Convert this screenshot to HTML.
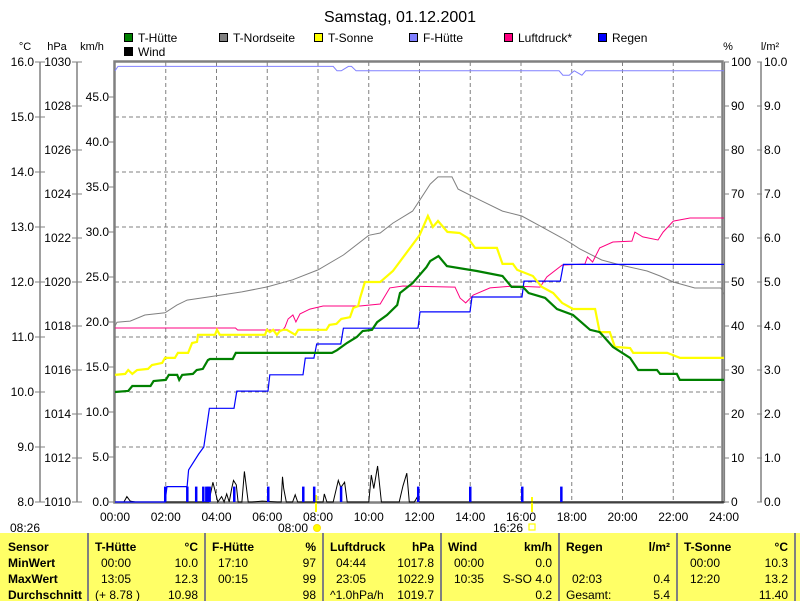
<!DOCTYPE html>
<html><head><meta charset="utf-8"><style>
body{margin:0;background:#fff;width:800px;height:601px;overflow:hidden;font-family:"Liberation Sans",sans-serif}
svg text{font-family:"Liberation Sans",sans-serif}
</style></head><body>
<svg id="c" width="800" height="601" xmlns="http://www.w3.org/2000/svg">
<rect width="800" height="601" fill="#fff"/>
<text x="400" y="22" font-size="16" text-anchor="middle">Samstag, 01.12.2001</text>
<g id="grid"></g>
<g id="axes"></g>
<g id="series"></g>
<g id="legend"></g>
<g id="table"></g>
</svg>
<script>
// ---- data ----
const hutteT=[0,0.52,0.68,1.4,1.52,2.0,2.12,2.45,2.53,2.65,3.07,3.22,3.46,3.66,3.74,4.64,4.76,8.55,8.75,9.14,9.53,9.76,10.13,10.33,10.72,11.12,11.14,11.23,11.73,12.27,12.42,12.75,13.08,14.26,15.27,15.63,16.07,16.3,16.95,17.42,18.05,18.72,19.1,19.62,20.3,20.62,21.36,21.48,22.14,22.26,23.85,24];
const hutteV=[10.0,10.02,10.11,10.11,10.2,10.22,10.31,10.31,10.22,10.31,10.33,10.4,10.42,10.58,10.6,10.6,10.71,10.71,10.76,10.89,11.0,11.11,11.13,11.27,11.4,11.58,11.62,11.8,11.98,12.27,12.38,12.47,12.29,12.2,12.11,11.91,11.91,11.8,11.71,11.51,11.4,11.13,11.09,10.82,10.62,10.4,10.4,10.33,10.33,10.22,10.22,10.22];
const nordT=[0,0.08,0.6,1.18,1.97,2.44,2.84,4.0,5.0,6.0,7.0,8.0,9.0,10.0,10.45,10.95,11.73,12.42,12.73,13.28,13.52,14.38,15.27,16.03,16.75,17.62,18.02,18.32,19.18,19.9,20.97,21.48,22.0,22.85,23.88,24];
const nordV=[11.2,11.27,11.29,11.4,11.44,11.58,11.67,11.75,11.82,11.91,12.04,12.22,12.49,12.85,12.89,13.07,13.29,13.78,13.91,13.91,13.69,13.49,13.29,13.2,13.02,12.8,12.69,12.6,12.4,12.31,12.2,12.11,12.0,11.89,11.89,11.78];
const sonneT=[0,0.4,0.52,0.68,0.87,1.3,1.46,1.86,1.97,2.36,2.48,2.88,3.04,3.23,3.27,3.94,4.02,4.13,5.91,5.99,6.1,6.23,6.38,6.5,6.62,6.77,7.1,7.22,8.33,8.45,8.73,8.92,9.26,9.39,9.58,9.66,9.85,10.45,10.95,12.0,12.33,12.53,12.73,13.1,13.58,13.9,14.19,15.05,15.27,15.68,15.85,16.47,16.82,17.27,17.62,18.05,18.92,19.1,19.5,19.7,20.3,20.42,21.76,22.27,23.85,24];
const sonneV=[10.31,10.33,10.4,10.33,10.4,10.42,10.49,10.53,10.62,10.62,10.71,10.71,10.89,10.91,11.04,11.04,11.13,11.04,11.04,11.13,11.09,11.13,11.04,11.11,11.13,11.13,11.04,11.13,11.13,11.22,11.24,11.33,11.36,11.53,11.56,11.71,12.0,12.0,12.2,12.85,13.2,13.0,13.11,12.91,12.89,12.8,12.62,12.62,12.33,12.33,12.22,12.11,11.91,11.8,11.62,11.51,11.51,11.09,11.09,10.82,10.8,10.71,10.71,10.62,10.62,10.62];
const pressT=[0,4.75,4.83,6.61,6.7,6.82,7.01,7.13,7.29,7.68,8.2,9.65,10.45,10.83,11.35,13.4,13.6,13.82,14.12,14.78,15.7,16.75,17.02,17.62,18.52,18.62,18.82,19.1,19.62,20.37,20.49,20.8,21.4,21.6,22.0,22.66,24];
const pressV=[1017.91,1017.91,1017.82,1017.82,1017.95,1018.32,1018.5,1018.18,1018.55,1018.77,1018.91,1018.91,1019.0,1019.73,1019.82,1019.77,1019.27,1019.05,1019.41,1019.73,1019.82,1019.77,1020.23,1020.77,1020.82,1021.14,1020.91,1021.55,1021.82,1021.86,1022.27,1022.05,1021.91,1022.27,1022.77,1022.91,1022.91];
const humT=[0,0.12,8.6,8.75,8.92,9.2,9.32,9.5,17.5,17.65,17.9,18.1,18.4,18.55,24];
const humV=[98,99,99,98,98,99,99,98,98,97,97,98,97,98,98];
const rainSumT=[0,1.97,2.05,2.84,2.9,3.3,3.5,3.72,4.69,4.8,6.03,6.1,7.41,7.5,7.84,7.95,8.9,9.0,11.94,12.02,13.99,14.07,16.04,16.12,17.55,17.67,24];
const rainSumV=[0,0,0.35,0.35,0.73,1.09,1.25,2.13,2.13,2.52,2.52,2.89,2.89,3.27,3.27,3.59,3.59,3.95,3.95,4.32,4.32,4.66,4.66,5.02,5.02,5.4,5.4];
const rainBarT=[1.97,2.84,3.19,3.47,3.59,3.66,3.72,4.69,6.03,7.41,7.84,8.9,11.94,13.99,16.04,17.58];
const rainBarV=[0.35,0.35,0.35,0.35,0.35,0.35,0.35,0.35,0.35,0.35,0.35,0.35,0.35,0.35,0.35,0.35];
const windT=[0,0.35,0.47,0.6,0.8,3.7,3.86,3.95,4.05,4.2,4.3,4.4,4.5,4.6,4.67,4.78,4.85,5.0,5.1,5.25,5.4,5.8,6.4,6.55,6.6,6.65,6.75,7.0,7.1,7.2,8.2,8.25,8.35,8.6,8.8,8.9,9.05,9.15,10.0,10.1,10.2,10.35,10.5,11.2,11.35,11.5,11.6,11.8,11.9,12.0,24];
const windV=[0,0,0.6,0.1,0,0,2.2,1.2,0,0.6,0,0.9,0,1.5,2.4,1.9,0,0,3.4,0,0,0.1,0,0,2.8,1.5,0,0,0.8,0,0,0.9,0,0,2.4,1.6,2.2,0,0,3.0,1.5,4.0,0,0,1.8,3.2,0,0,0.5,0,0];
const xTickLabels=["00:00","02:00","04:00","06:00","08:00","10:00","12:00","14:00","16:00","18:00","20:00","22:00","24:00"];
const cTicks=["8.0","9.0","10.0","11.0","12.0","13.0","14.0","15.0","16.0"];
const hpaTicks=["1010","1012","1014","1016","1018","1020","1022","1024","1026","1028","1030"];
const kmhTicks=["0.0","5.0","10.0","15.0","20.0","25.0","30.0","35.0","40.0","45.0"];
const pctTicks=["0","10","20","30","40","50","60","70","80","90","100"];
const lmTicks=["0.0","1.0","2.0","3.0","4.0","5.0","6.0","7.0","8.0","9.0","10.0"];

// ---- scales ----
const X0=115,X1=724,Y0=502,Y1=62;
const xs=h=>X0+h*(X1-X0)/24;
const yC=v=>Y0-(v-8)*(Y0-Y1)/8;
const yH=v=>Y0-(v-1010)*(Y0-Y1)/20;
const yK=v=>Y0-v*9;
const yP=v=>Y0-v*(Y0-Y1)/100;
const yL=v=>Y0-v*(Y0-Y1)/10;
const NS="http://www.w3.org/2000/svg";
function mk(tag,attrs,parent){const e=document.createElementNS(NS,tag);for(const k in attrs)e.setAttribute(k,attrs[k]);parent.appendChild(e);return e;}
const G=document.getElementById('grid'),A=document.getElementById('axes'),S=document.getElementById('series'),L=document.getElementById('legend'),T=document.getElementById('table');

// grid
for(let i=1;i<12;i++){const l=mk('line',{x1:xs(i*2),x2:xs(i*2),y1:Y1,y2:Y0,stroke:'#808080','stroke-dasharray':'4,3'},G);
}
for(let i=1;i<8;i++){const l=mk('line',{x1:X0,x2:X1,y1:yC(8+i),y2:yC(8+i),stroke:'#808080','stroke-dasharray':'4,3'},G);
}
// frame
mk('rect',{x:X0-0.5,y:Y1-0.5,width:X1-X0-1,height:Y0-Y1+1,fill:'none',stroke:'#808080','stroke-width':2.5},A);
mk('line',{x1:X1+0.5,x2:X1+0.5,y1:Y1,y2:Y0+1,stroke:'#808080','stroke-width':1.2},A);

function txt(x,y,s,anchor,size,parent,name,extra){const t=mk('text',{x:x,y:y,'font-size':size||12,'text-anchor':anchor||'start'},parent);t.textContent=s;
if(extra)for(const k in extra)t.setAttribute(k,extra[k]);return t;}
// left axes
mk('line',{x1:40,x2:40,y1:Y1,y2:Y0,stroke:'#808080','stroke-width':1.5},A);
mk('line',{x1:77,x2:77,y1:Y1,y2:Y0,stroke:'#808080','stroke-width':1.5},A);
cTicks.forEach((s,i)=>{const y=yC(8+i);mk('line',{x1:35,x2:45,y1:y,y2:y,stroke:'#808080'},A);txt(34,y+4,s,'end',12,A,'celsius-tick-label');});
hpaTicks.forEach((s,i)=>{const y=yH(1010+i*2);mk('line',{x1:72,x2:82,y1:y,y2:y,stroke:'#808080'},A);txt(71,y+4,s,'end',12,A,'hpa-tick-label');});
kmhTicks.forEach((s,i)=>{const y=yK(i*5);mk('line',{x1:109,x2:114,y1:y,y2:y,stroke:'#808080'},A);txt(109,y+4,s,'end',12,A,'kmh-tick-label');});
pctTicks.forEach((s,i)=>{const y=yP(i*10);mk('line',{x1:724,x2:729,y1:y,y2:y,stroke:'#808080'},A);txt(731,y+4,s,'start',12,A,'percent-tick-label');});
mk('line',{x1:761,x2:761,y1:Y1,y2:Y0,stroke:'#808080','stroke-width':1.5},A);
lmTicks.forEach((s,i)=>{const y=yL(i);mk('line',{x1:757,x2:762,y1:y,y2:y,stroke:'#808080'},A);txt(764,y+4,s,'start',12,A,'rain-tick-label');});
txt(25,50,'°C','middle',11,A,'celsius-axis-title');txt(57,50,'hPa','middle',11,A,'hpa-axis-title');txt(92,50,'km/h','middle',11,A,'kmh-axis-title');
txt(728,50,'%','middle',11,A,'percent-axis-title');txt(770,50,'l/m²','middle',11,A,'rain-axis-title');
xTickLabels.forEach((s,i)=>{txt(xs(i*2),521,s,'middle',12,A,'x-tick-label');});
txt(10,532,'08:26','start',12,A,'current-time-label');
txt(308,532,'08:00','end',12,A,'sunrise-label');
txt(523,532,'16:26','end',12,A,'sunset-label');
let e;
e=mk('line',{x1:316,x2:316,y1:495,y2:512,stroke:'#ffff00','stroke-width':2},A);
e=mk('line',{x1:532,x2:532,y1:497,y2:512,stroke:'#ffff00','stroke-width':2},A);
e=mk('circle',{cx:317,cy:528,r:3.5,fill:'#ffff00',stroke:'#ffe000'},A);
e=mk('rect',{x:529,y:524,width:6,height:6,fill:'none',stroke:'#ffff00','stroke-width':1.2},A);

// series
function line(ts,vs,yf,color,w,name){const p=ts.map((t,i)=>xs(t).toFixed(1)+','+yf(vs[i]).toFixed(1)).join(' ');
const pl=mk('polyline',{points:p,fill:'none',stroke:color,'stroke-width':w,'stroke-linejoin':'miter'},S);
}
line(windT,windV,yK,'#000',1,'wind-line');
rainBarT.forEach((t,i)=>{const r=mk('rect',{x:xs(t)-1,y:yL(rainBarV[i]),width:2.5,height:Y0-yL(rainBarV[i]),fill:'#0000ff'},S);
});
line(humT,humV,yP,'#8080ff',1,'f-huette-line');
line(nordT,nordV,yC,'#808080',1,'t-nordseite-line');
line(pressT,pressV,yH,'#ff0080',1,'luftdruck-line');
line(rainSumT,rainSumV,yL,'#0000ff',1.2,'regen-line');
line(sonneT,sonneV,yC,'#ffff00',2.2,'t-sonne-line');
line(hutteT,hutteV,yC,'#008000',2.2,'t-huette-line');

// legend
const leg=[['T-Hütte','#008000',124,33],['T-Nordseite','#808080',219,33],['T-Sonne','#ffff00',314,33],['F-Hütte','#8080ff',409,33],['Luftdruck*','#ff0080',504,33],['Regen','#0000ff',598,33],['Wind','#000000',124,47]];
leg.forEach(l=>{const r=mk('rect',{x:l[2]+0.5,y:l[3]+0.5,width:8,height:8,fill:l[1],stroke:'#000'},L);

txt(l[2]+14,l[3]+9,l[0],'start',12,L,'legend-entry');});

// table
e=mk('rect',{x:0,y:533,width:800,height:68,fill:'#ffff66'},T);
[88,205,323,441,559,677,795].forEach(x=>{const l=mk('line',{x1:x,x2:x,y1:533,y2:601,stroke:'#808080','stroke-width':2},T);
});
const rows=[551,567,583,599];
const B={'font-weight':'bold'};
['Sensor','MinWert','MaxWert','Durchschnitt'].forEach((s,i)=>txt(8,rows[i],s,'start',12,T,'row-label',B));
const cols=[[95,198,'T-Hütte','°C',['00:00','13:05','(+ 8.78 )'],['10.0','12.3','10.98']],
[212,316,'F-Hütte','%',['17:10','00:15',''],['97','99','98']],
[330,434,'Luftdruck','hPa',['04:44','23:05','^1.0hPa/h'],['1017.8','1022.9','1019.7']],
[448,552,'Wind','km/h',['00:00','10:35',''],['0.0','S-SO 4.0','0.2']],
[566,670,'Regen','l/m²',['','02:03','Gesamt:'],['','0.4','5.4']],
[684,788,'T-Sonne','°C',['00:00','12:20',''],['10.3','13.2','11.40']]];
cols.forEach(c=>{txt(c[0],rows[0],c[2],'start',12,T,'column-header',B);txt(c[1],rows[0],c[3],'end',12,T,'column-unit',B);
c[4].forEach((s,i)=>{if(s)txt(c[0]+(s.startsWith('^')||s.startsWith('(')||s==='Gesamt:'?0:6),rows[i+1],s,'start',12,T,'table-time');});
c[5].forEach((s,i)=>{if(s)txt(c[1],rows[i+1],s,'end',12,T,'table-value');});});
</script>
</body></html>
